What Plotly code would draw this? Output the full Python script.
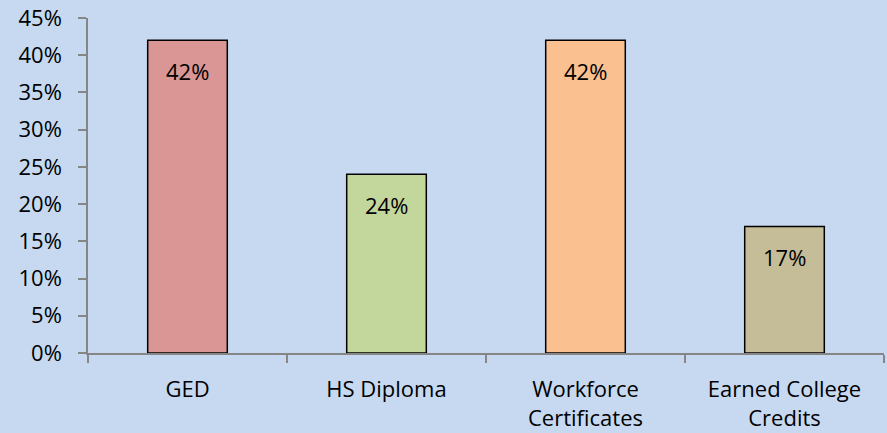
import plotly.graph_objects as go

categories = ["GED", "HS Diploma", "Workforce<br>Certificates", "Earned College<br>Credits"]
values = [0.42, 0.24, 0.42, 0.17]
labels = ["42%", "24%", "42%", "17%"]
colors = ["#D99694", "#C3D69B", "#FAC090", "#C4BD97"]

FONT = "Open Sans"
FS = 22

fig = go.Figure()
fig.add_trace(go.Bar(
    x=categories, y=values, width=0.4,
    marker=dict(color=colors, line=dict(color="black", width=1.5)),
    hoverinfo="skip",
))
for c, v, t in zip(categories, values, labels):
    fig.add_annotation(x=c, y=v, text=t, showarrow=False, yanchor="top",
                       yshift=-14, font=dict(family=FONT, size=FS, color="black"))

fig.update_layout(
    width=887, height=433,
    margin=dict(l=88, r=3, t=18, b=80, autoexpand=False),
    paper_bgcolor="#C6D9F1", plot_bgcolor="#C6D9F1",
    showlegend=False,
    font=dict(family=FONT, size=FS, color="black"),
    bargap=0.6,
)
fig.update_xaxes(
    range=[-0.5, 3.5], showline=True, linecolor="#868686", linewidth=1.5,
    ticks="outside", tickson="boundaries", ticklen=8, tickcolor="#868686", tickwidth=1.5,
    showgrid=False, tickfont=dict(family=FONT, size=FS), ticklabelstandoff=16,
    automargin=False,
)
fig.update_yaxes(
    range=[0, 0.45], dtick=0.05, tickformat=".0%", showline=True, linecolor="#868686",
    linewidth=1.5, ticks="outside", ticklen=8, tickcolor="#868686", tickwidth=1.5,
    showgrid=False, zeroline=False, tickfont=dict(family=FONT, size=FS),
    ticklabelstandoff=12, automargin=False,
)
fig.write_html("out.html", config={"displayModeBar": False},
               post_script="document.body.style.margin='0';")
